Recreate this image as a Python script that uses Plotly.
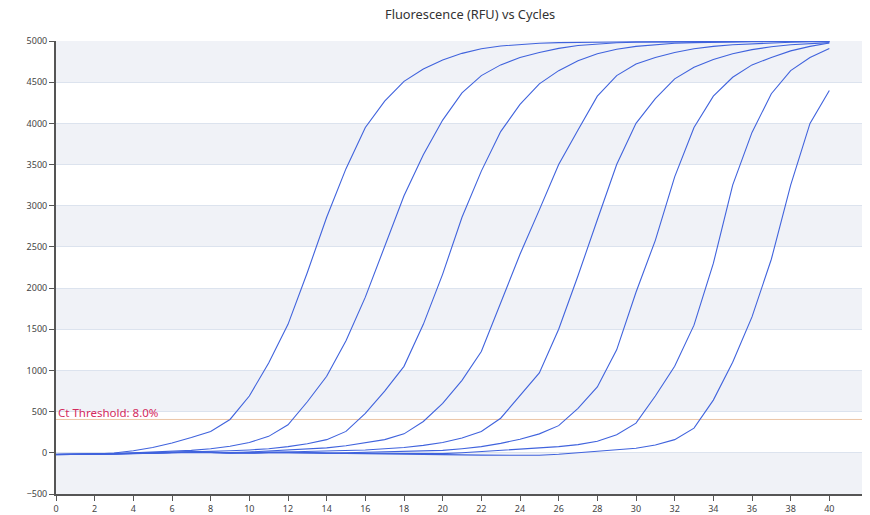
import plotly.graph_objects as go

cycles = list(range(0, 41))

c1 = [-18, -20, -15, -2, 25, 65, 120, 185, 260, 405, 690, 1090, 1560, 2190, 2860, 3450, 3950, 4270, 4510, 4660,
      4770, 4850, 4905, 4940, 4960, 4972, 4980, 4985, 4990, 4988, 4990, 4992, 4990, 4993, 4994, 4992, 4995, 4994, 4995, 4996, 4995]
c2 = [-20, -18, -15, -8, 0, 8, 18, 30, 50, 80, 125, 200, 340, 620, 930, 1360, 1890, 2500, 3120, 3620,
      4040, 4370, 4580, 4710, 4800, 4860, 4910, 4945, 4965, 4978, 4985, 4988, 4990, 4992, 4991, 4993, 4994, 4995, 4994, 4996, 4996]
c3 = [-22, -20, -15, -10, -5, 0, 5, 10, 15, 25, 35, 50, 75, 110, 160, 260, 480, 750, 1050, 1560,
      2170, 2860, 3420, 3900, 4230, 4480, 4640, 4760, 4845, 4900, 4935, 4958, 4972, 4980, 4986, 4988, 4990, 4992, 4993, 4994, 4995]
c4 = [-20, -22, -18, -12, -5, 0, 5, 8, 5, 2, 10, 22, 35, 45, 60, 85, 120, 160, 230, 380,
      600, 880, 1230, 1830, 2410, 2950, 3500, 3920, 4330, 4580, 4720, 4800, 4860, 4905, 4935, 4955, 4968, 4978, 4985, 4990, 4993]
c5 = [-20, -22, -20, -15, -10, -2, 5, 10, 5, -5, 0, 5, 8, 12, 18, 25, 35, 50, 65, 90,
      125, 180, 260, 420, 690, 970, 1500, 2150, 2830, 3500, 4000, 4300, 4540, 4680, 4775, 4845, 4895, 4930, 4955, 4970, 4980]
c6 = [-18, -20, -22, -18, -12, -5, 2, 8, 5, -2, -5, 0, 5, 3, -5, 0, 5, 8, 12, 20,
      30, 50, 75, 115, 165, 230, 330, 540, 800, 1250, 1950, 2580, 3350, 3950, 4330, 4560, 4710, 4800, 4880, 4935, 4975]
c7 = [-20, -18, -15, -12, -8, -2, 5, 10, 8, 0, 5, 10, 5, 0, -5, -8, -5, -8, -10, -15,
      -10, 0, 15, 25, 40, 55, 75, 100, 140, 220, 360, 690, 1050, 1550, 2300, 3250, 3890, 4360, 4640, 4800, 4910]
c8 = [-22, -20, -18, -15, -10, -5, 0, 5, 3, -2, -5, 0, 2, 0, -5, -10, -12, -15, -18, -20,
      -22, -25, -28, -30, -32, -30, -18, 0, 15, 30, 55, 95, 160, 300, 640, 1100, 1650, 2350, 3250, 4000, 4400]

series = [c1, c2, c3, c4, c5, c6, c7, c8]

threshold_value = 405
threshold_label = "Ct Threshold: 8.0%"
title_text = "Fluorescence (RFU) vs Cycles"

y_ticks = list(range(-500, 5001, 500))
x_ticks = list(range(0, 43, 2))

line_color = "#4063dd"
font_family = "Noto Sans, Open Sans, sans-serif"

# page body has an 8px margin, so the figure is sized to fit the 870x515 window
W, H = 862, 507

fig = go.Figure()
for s in series:
    fig.add_trace(go.Scatter(x=cycles, y=s, mode="lines",
                             line=dict(color=line_color, width=1.1),
                             hoverinfo="skip"))

shapes = []
for i in range(len(y_ticks) - 1):
    if i % 2 == 0:
        shapes.append(dict(type="rect", xref="paper", yref="y", x0=0, x1=1,
                           y0=y_ticks[i], y1=y_ticks[i + 1],
                           fillcolor="#f0f2f7", line=dict(width=0), layer="below"))
shapes.append(dict(type="line", xref="paper", yref="y", x0=0, x1=1,
                   y0=threshold_value, y1=threshold_value,
                   line=dict(color="#ecc6a8", width=1), layer="between"))

fig.update_layout(
    width=W, height=H,
    margin=dict(l=48, r=2, t=33, b=21, autoexpand=False),
    paper_bgcolor="white", plot_bgcolor="white",
    showlegend=False,
    font=dict(family=font_family, size=9, color="#444"),
    shapes=shapes,
    annotations=[
        dict(text=title_text, x=440 / W, y=1, xref="paper", yref="paper",
             xanchor="center", yanchor="bottom", yshift=16, showarrow=False,
             font=dict(size=12.8, color="#333", family=font_family)),
        dict(text=threshold_label, x=0, y=threshold_value, xref="x", yref="y",
             xanchor="left", yanchor="bottom", showarrow=False, xshift=0, yshift=-3,
             font=dict(color="#d42a5e", size=11.5, family=font_family)),
    ],
)
fig.update_xaxes(range=[0, 42], tickvals=x_ticks, ticks="outside", ticklen=5, tickcolor="#555",
                 showline=True, linecolor="#555", linewidth=2, showgrid=False, zeroline=False,
                 automargin=False, tickfont=dict(size=9, color="#444"))
fig.update_yaxes(range=[-500, 5000], tickvals=y_ticks, ticks="outside", ticklen=5, tickcolor="#555",
                 showline=True, linecolor="#555", linewidth=2, showgrid=True, gridcolor="#dce3ee",
                 gridwidth=1, zeroline=False, automargin=False, tickfont=dict(size=9, color="#444"))

fig.write_html("out.html")
